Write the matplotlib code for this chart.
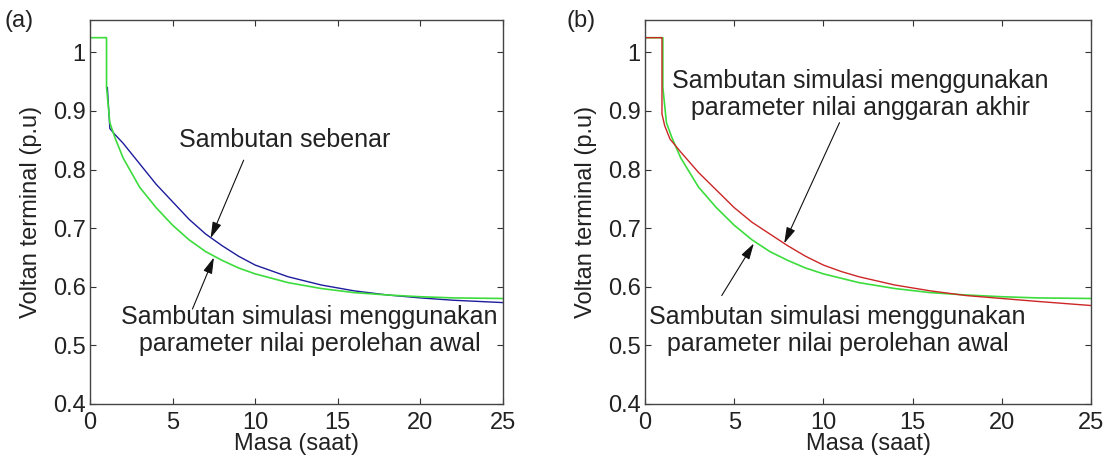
import numpy as np
import matplotlib.pyplot as plt

plt.rcParams['font.family'] = ['Liberation Sans', 'DejaVu Sans']

# masa (saat) dan nilai voltan (p.u)
t_green = [0, 1.0, 1.0, 1.2, 1.5, 2, 3, 4, 5, 6, 7, 8, 9, 10, 12, 14, 16, 18, 20, 22, 25]
v_green = [1.025, 1.025, 0.94, 0.88, 0.855, 0.82, 0.77, 0.735, 0.705, 0.68, 0.66,
           0.645, 0.632, 0.622, 0.607, 0.597, 0.59, 0.586, 0.583, 0.581, 0.58]

t_blue = [1.05, 1.2, 1.5, 2, 3, 4, 5, 6, 7, 8, 9, 10, 12, 14, 16, 18, 20, 22, 25]
v_blue = [0.94, 0.87, 0.86, 0.845, 0.81, 0.775, 0.745, 0.715, 0.69, 0.67, 0.652,
          0.637, 0.617, 0.603, 0.593, 0.586, 0.581, 0.577, 0.573]

t_red = [0, 0.95, 0.95, 1.1, 1.4, 2, 3, 4, 5, 6, 7, 8, 9, 10, 11, 12, 14, 16, 18, 20, 22, 25]
v_red = [1.025, 1.025, 0.895, 0.875, 0.852, 0.83, 0.795, 0.765, 0.735, 0.71, 0.69,
         0.67, 0.652, 0.637, 0.626, 0.617, 0.603, 0.593, 0.585, 0.58, 0.575, 0.568]

xticks = [0, 5, 10, 15, 20, 25]
yticks = [0.4, 0.5, 0.6, 0.7, 0.8, 0.9, 1.0]
yticklabels = ['0.4', '0.5', '0.6', '0.7', '0.8', '0.9', '1']

GREEN = '#3ddc3d'
BLUE = '#1c1c9c'
RED = '#cc2626'
INK = '#222222'

fig = plt.figure(figsize=(11.06, 4.57), dpi=100)
ax1 = fig.add_axes([0.0814, 0.116, 0.3734, 0.840])
ax2 = fig.add_axes([0.5832, 0.116, 0.4033, 0.840])


def setup(ax):
    ax.set_xlim(0, 25)
    ax.set_ylim(0.4, 1.055)
    ax.set_xticks(xticks)
    ax.set_yticks(yticks)
    ax.set_yticklabels(yticklabels)
    ax.tick_params(direction='in', top=True, right=True, length=4,
                   labelsize=17, color='#333333', labelcolor=INK, pad=3)
    ax.tick_params(axis='x', pad=6)
    for s in ax.spines.values():
        s.set_color('#444444')
        s.set_linewidth(1.0)
    ax.set_xlabel('Masa (saat)', fontsize=17, color=INK, labelpad=-1)
    ax.set_ylabel('Voltan terminal (p.u)', fontsize=17, color=INK, labelpad=8)


arrow = dict(arrowstyle='-|>,head_length=0.7,head_width=0.2', color='#111111',
             lw=0.8, mutation_scale=14, shrinkA=0, shrinkB=0)
txt = dict(fontsize=18, ha='center', va='center', linespacing=1.15, color=INK)

# (a)
ax1.plot(t_blue, v_blue, color=BLUE, lw=1.0)
ax1.plot(t_green, v_green, color=GREEN, lw=1.2)
setup(ax1)
fig.text(0.004, 0.942, '(a)', fontsize=17, color=INK)

ax1.annotate('', xy=(7.3, 0.683), xytext=(9.3, 0.816), arrowprops=arrow)
ax1.annotate('', xy=(7.5, 0.65), xytext=(6.2, 0.562), arrowprops=arrow)
ax1.text(11.8, 0.851, 'Sambutan sebenar', **txt)
ax1.text(13.3, 0.525, 'Sambutan simulasi menggunakan\nparameter nilai perolehan awal', **txt)

# (b)
ax2.plot(t_green, v_green, color=GREEN, lw=1.2)
ax2.plot(t_red, v_red, color=RED, lw=1.0)
setup(ax2)
fig.text(0.512, 0.942, '(b)', fontsize=17, color=INK)

ax2.annotate('', xy=(7.8, 0.674), xytext=(10.9, 0.88), arrowprops=arrow)
ax2.annotate('', xy=(6.1, 0.674), xytext=(4.3, 0.585), arrowprops=arrow)
ax2.text(12.05, 0.928, 'Sambutan simulasi menggunakan\nparameter nilai anggaran akhir', **txt)
ax2.text(10.8, 0.525, 'Sambutan simulasi menggunakan\nparameter nilai perolehan awal', **txt)

fig.savefig('out.png', dpi=100)
